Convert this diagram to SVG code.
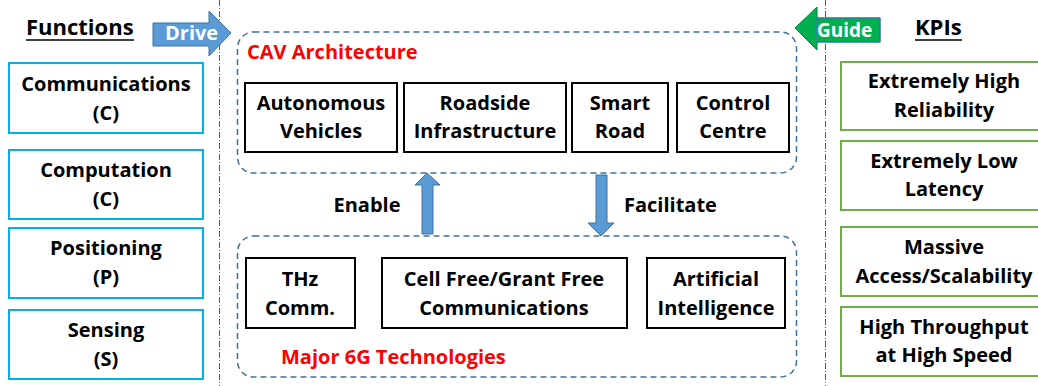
<svg xmlns="http://www.w3.org/2000/svg" width="1038" height="386" viewBox="0 0 1038 386">
<style>
  text { font-family: "Open Sans", "Lato", "Liberation Sans", sans-serif; font-weight: bold; fill: #000; }
  .t { font-size: 20px; text-anchor: middle; }
  .title { font-size: 22px; }
  .red { fill: #FF0000; font-size: 20px; }
  .white { fill: #FFFFFF; font-size: 20px; }
  .fbox { fill: #FFFFFF; stroke: #00B0F0; stroke-width: 2; }
  .kbox { fill: #FFFFFF; stroke: #70AD47; stroke-width: 2; }
  .bbox { fill: #FFFFFF; stroke: #000000; stroke-width: 2; }
  .cont { fill: none; stroke: #41719C; stroke-width: 1.5; stroke-dasharray: 6 4; }
  .div { stroke: #595959; stroke-width: 1; stroke-dasharray: 6 2 1 2; fill: none; }
  .barrow { fill: #5B9BD5; stroke: #41719C; stroke-width: 1; }
  .garrow { fill: #00B050; stroke: #00843C; stroke-width: 1; }
  .ul { stroke: #000; stroke-width: 1.5; }
</style>

<g id="dividers">
  <line class="div" x1="219.5" y1="0" x2="219.5" y2="386"/>
  <line class="div" x1="825.5" y1="0" x2="825.5" y2="386"/>
</g>

<g id="functions-title">
  <text class="title" x="26" y="35">Functions</text>
  <line class="ul" x1="26" y1="40" x2="134" y2="40"/>
</g>
<g id="kpis-title">
  <text class="title" x="915" y="35">KPIs</text>
  <line class="ul" x1="915" y1="40" x2="962" y2="40"/>
</g>

<g id="fn-communications">
  <rect class="fbox" x="9" y="63" width="194" height="70"/>
  <text class="t" x="106" y="91">Communications</text>
  <text class="t" x="106" y="120">(C)</text>
</g>
<g id="fn-computation">
  <rect class="fbox" x="9" y="150" width="194" height="69"/>
  <text class="t" x="106" y="177">Computation</text>
  <text class="t" x="106" y="206">(C)</text>
</g>
<g id="fn-positioning">
  <rect class="fbox" x="9" y="228" width="194" height="70"/>
  <text class="t" x="106" y="255">Positioning</text>
  <text class="t" x="106" y="284">(P)</text>
</g>
<g id="fn-sensing">
  <rect class="fbox" x="9" y="310" width="194" height="69"/>
  <text class="t" x="106" y="337">Sensing</text>
  <text class="t" x="106" y="366">(S)</text>
</g>

<g id="kpi-reliability">
  <rect class="kbox" x="841" y="62" width="206" height="68"/>
  <text class="t" x="944" y="88">Extremely High</text>
  <text class="t" x="944" y="117">Reliability</text>
</g>
<g id="kpi-latency">
  <rect class="kbox" x="841" y="141" width="206" height="69"/>
  <text class="t" x="944" y="168">Extremely Low</text>
  <text class="t" x="944" y="196">Latency</text>
</g>
<g id="kpi-access">
  <rect class="kbox" x="841" y="227" width="206" height="69"/>
  <text class="t" x="944" y="254">Massive</text>
  <text class="t" x="944" y="283">Access/Scalability</text>
</g>
<g id="kpi-throughput">
  <rect class="kbox" x="841" y="307" width="206" height="69"/>
  <text class="t" x="944" y="334">High Throughput</text>
  <text class="t" x="944" y="362">at High Speed</text>
</g>

<g id="cav-architecture">
  <rect class="cont" x="237.5" y="32" width="559" height="141" rx="16"/>
  <text class="red" x="247" y="59">CAV Architecture</text>
</g>
<g id="autonomous-vehicles">
  <rect class="bbox" x="245" y="83" width="152" height="69"/>
  <text class="t" x="321" y="110">Autonomous</text>
  <text class="t" x="321" y="138">Vehicles</text>
</g>
<g id="roadside-infrastructure">
  <rect class="bbox" x="404" y="83" width="162" height="69"/>
  <text class="t" x="485" y="110">Roadside</text>
  <text class="t" x="485" y="138">Infrastructure</text>
</g>
<g id="smart-road">
  <rect class="bbox" x="572" y="83" width="96" height="69"/>
  <text class="t" x="620" y="110">Smart</text>
  <text class="t" x="620" y="138">Road</text>
</g>
<g id="control-centre">
  <rect class="bbox" x="677" y="83" width="112" height="69"/>
  <text class="t" x="733" y="110">Control</text>
  <text class="t" x="733" y="138">Centre</text>
</g>

<g id="major-6g">
  <rect class="cont" x="237.5" y="236" width="559" height="141" rx="16"/>
  <text class="red" x="281" y="364">Major 6G Technologies</text>
</g>
<g id="thz">
  <rect class="bbox" x="246" y="258" width="109" height="70"/>
  <text class="t" x="300" y="286">THz</text>
  <text class="t" x="300" y="315">Comm.</text>
</g>
<g id="cell-free">
  <rect class="bbox" x="382" y="258" width="245" height="70"/>
  <text class="t" x="504" y="286">Cell Free/Grant Free</text>
  <text class="t" x="504" y="315">Communications</text>
</g>
<g id="ai">
  <rect class="bbox" x="647" y="258" width="138" height="70"/>
  <text class="t" x="716" y="286">Artificial</text>
  <text class="t" x="716" y="315">Intelligence</text>
</g>

<g id="connectors">
  <g id="drive">
    <polygon class="barrow" points="153,23 209,23 209,11 231,33 209,56 209,46 153,46"/>
    <text class="white" x="165" y="40">Drive</text>
  </g>
  <g id="guide">
    <polygon class="garrow" points="880,18 817,18 817,7 795,28 817,50 817,42 880,42"/>
    <rect x="817" y="18" width="63" height="24" fill="none" stroke="#4472C4" stroke-width="1"/>
    <text class="white" x="817" y="37" style="font-size:19px">Guide</text>
  </g>
  <g id="enable">
    <polygon class="barrow" points="427,173 440,185 433,185 433,234 422,234 422,185 415,185"/>
    <text class="t" x="367" y="212">Enable</text>
  </g>
  <g id="facilitate">
    <polygon class="barrow" points="596,175 607,175 607,223 614,223 601,236 588,223 596,223"/>
    <text x="624" y="212" style="font-size:20px">Facilitate</text>
  </g>
</g>
</svg>
